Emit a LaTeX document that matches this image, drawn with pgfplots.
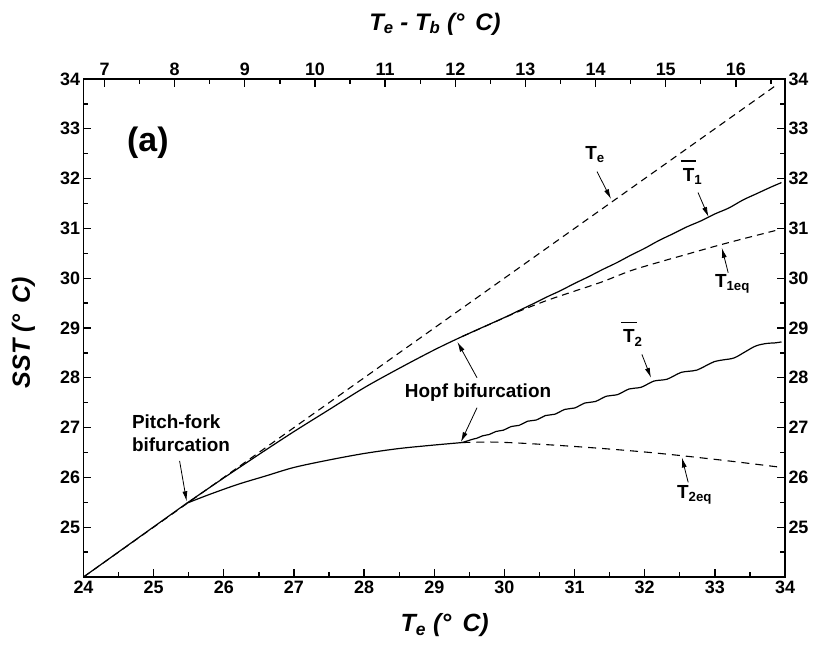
\documentclass[border=0pt]{standalone}
\usepackage{fontspec}
\setmainfont{Liberation Sans}
\usepackage{pgfplots}
\pgfplotsset{compat=1.18}
\usetikzlibrary{arrows.meta}
\newcommand{\dg}{(°\hspace{0.45em}C)}
\newcommand{\ovT}{\leavevmode\rlap{\hspace{-0.1em}\rule[1.04em]{0.82em}{1.5bp}}T}
\begin{document}
\begin{tikzpicture}
\path[use as bounding box] (-83.5bp,-74bp) rectangle (756.5bp,577bp);
\pgfplotsset{
  myax/.style={
    at={(0,0)}, anchor=south west, scale only axis,
    width=701.5bp, height=498bp,
    ymin=24, ymax=34,
    ytick={25,...,34}, minor ytick={24.5,25.5,...,33.5},
    tick align=inside,
    major tick length=8bp, minor tick length=5bp,
    every tick/.style={black, line width=1.3bp},
    every minor tick/.style={black, line width=1.3bp},
    axis line style={line width=1.6bp},
    ticklabel style={font=\bfseries\fontsize{18}{18}\selectfont},
    /pgf/number format/assume math mode=true,
    clip=false,
  }
}
\begin{axis}[myax,
  xmin=6.7, xmax=16.7,
  xtick={7,...,16}, minor xtick={7.5,8.5,...,16.5},
  xtick pos=top, xticklabel pos=top,
  ytick pos=right, yticklabel pos=right,
]
\end{axis}
\begin{axis}[myax,
  xmin=24, xmax=34,
  xtick={24,...,34}, minor xtick={24.5,25.5,...,33.5},
  xtick pos=bottom, ytick pos=left,
]
% T_e dashed
\addplot[black, line width=1.1bp, dash pattern=on 7bp off 5bp] coordinates {(24,24) (33.9,33.9)};
% common branch below pitchfork
\addplot[black, line width=1.2bp] coordinates {(24,24) (25.47,25.48)};
% upper branch T1
\addplot[black, line width=1.2bp, smooth, tension=0.5] coordinates {
(25.47,25.48) (26.0,25.99) (26.5,26.46) (27.0,26.92) (27.5,27.36) (28.0,27.80)
(28.5,28.19) (29.0,28.56) (29.4,28.83) (30.0,29.21) (30.2,29.345) (30.4,29.48) (30.6,29.62) (30.8,29.75)
(31.0,29.895) (31.2,30.03) (31.4,30.175) (31.6,30.31) (31.8,30.46) (32.0,30.60) (32.2,30.755) (32.4,30.89) (32.6,31.03) (32.8,31.15) (33.0,31.29) (33.2,31.41)
(33.4,31.57) (33.6,31.70) (33.8,31.83) (33.95,31.92)};
% T1eq dashed
\addplot[black, line width=1.1bp, smooth, dash pattern=on 7bp off 5bp] coordinates {
(29.4,28.83) (29.8,29.08) (30.2,29.33) (30.6,29.55) (31.0,29.74) (31.4,29.93)
(31.8,30.15) (32.2,30.32) (32.6,30.48) (33.0,30.64) (33.4,30.79) (33.9,30.97)};
% lower branch T2 up to Hopf
\addplot[black, line width=1.2bp, smooth, tension=0.5] coordinates {
(25.47,25.48) (25.8,25.66) (26.2,25.86) (26.6,26.03) (27.0,26.20) (27.5,26.35)
(28.0,26.48) (28.5,26.58) (29.0,26.65) (29.4,26.70)};
% T2 mean (wiggly)
\addplot[black, line width=1.2bp, smooth, tension=0.6] coordinates {
(29.40,26.700) (29.48,26.736) (29.56,26.771)
(29.6025,26.784) (29.645,26.809) (29.6875,26.834) (29.73,26.847)
(29.78,26.860) (29.83,26.891) (29.88,26.922) (29.93,26.935)
(29.985,26.948) (30.04,26.984) (30.095,27.021) (30.15,27.033)
(30.21,27.045) (30.27,27.086) (30.33,27.128) (30.39,27.140)
(30.455,27.152) (30.52,27.197) (30.585,27.242) (30.65,27.255)
(30.72,27.269) (30.79,27.317) (30.86,27.365) (30.93,27.380)
(31.0025,27.394) (31.075,27.444) (31.1475,27.494) (31.22,27.508)
(31.2975,27.524) (31.375,27.577) (31.4525,27.630) (31.53,27.646)
(31.6125,27.662) (31.695,27.719) (31.7775,27.776) (31.86,27.792)
(31.95,27.810) (32.04,27.872) (32.13,27.934) (32.22,27.952)
(32.32,27.972) (32.42,28.041) (32.52,28.109) (32.62,28.130)
(32.745,28.155) (32.87,28.241) (32.995,28.326) (33.12,28.360)
(33.275,28.400) (33.43,28.520) (33.585,28.640) (33.74,28.690)
(33.85,28.700) (33.95,28.720)};
% T2eq dashed
\addplot[black, line width=1.1bp, smooth, dash pattern=on 8bp off 6bp] coordinates {
(29.4,26.70) (29.8,26.71) (30.2,26.69) (30.8,26.64) (31.4,26.58) (32.0,26.51)
(32.5,26.44) (33.2,26.33) (33.9,26.21)};

% annotations
\begin{scope}[every node/.style={font=\bfseries\fontsize{19}{19}\selectfont, inner sep=0pt}]
\node[anchor=base west] at (axis cs:24.62,32.54) {\fontsize{34}{34}\selectfont (a)};
\node[anchor=base west] at (axis cs:24.69,26.99) {Pitch-fork};
\node[anchor=base west] at (axis cs:24.69,26.52) {bifurcation};
\node[anchor=base west] at (axis cs:28.58,27.60) {Hopf bifurcation};
\node[anchor=base west] at (axis cs:31.15,32.38) {T\textsubscript{e}};
\node[anchor=base west] at (axis cs:32.54,31.94) {\ovT\textsubscript{1}};
\node[anchor=base west] at (axis cs:33.00,29.81) {T\textsubscript{1eq}};
\node[anchor=base west] at (axis cs:31.69,28.70) {\ovT\textsubscript{2}};
\node[anchor=base west] at (axis cs:32.46,25.58) {T\textsubscript{2eq}};
\end{scope}
\begin{scope}[-{Latex[length=10bp,width=5bp]}, line width=0.8bp]
\draw (axis cs:31.32,32.14) -- (axis cs:31.52,31.59);
\draw (axis cs:32.76,31.72) -- (axis cs:32.91,31.23);
\draw (axis cs:33.19,30.11) -- (axis cs:33.10,30.61);
\draw (axis cs:31.96,28.47) -- (axis cs:32.09,28.00);
\draw (axis cs:29.61,28.00) -- (axis cs:29.33,28.72);
\draw (axis cs:29.61,27.40) -- (axis cs:29.38,26.71);
\draw (axis cs:32.62,25.90) -- (axis cs:32.53,26.40);
\draw (axis cs:25.37,26.33) -- (axis cs:25.47,25.52);
\end{scope}
% axis titles
\node[anchor=base, font=\bfseries\itshape\fontsize{25}{25}\selectfont] at (axis cs:29.15,22.90) {T\textsubscript{e} \dg};
\node[anchor=base, font=\bfseries\itshape\fontsize{24}{24}\selectfont] at (axis cs:29.01,34.98) {T\textsubscript{e} - T\textsubscript{b} \dg};
\node[rotate=90, font=\bfseries\itshape\fontsize{25}{25}\selectfont] at (axis cs:23.145,28.91) {SST \dg};
\end{axis}
\end{tikzpicture}
\end{document}
